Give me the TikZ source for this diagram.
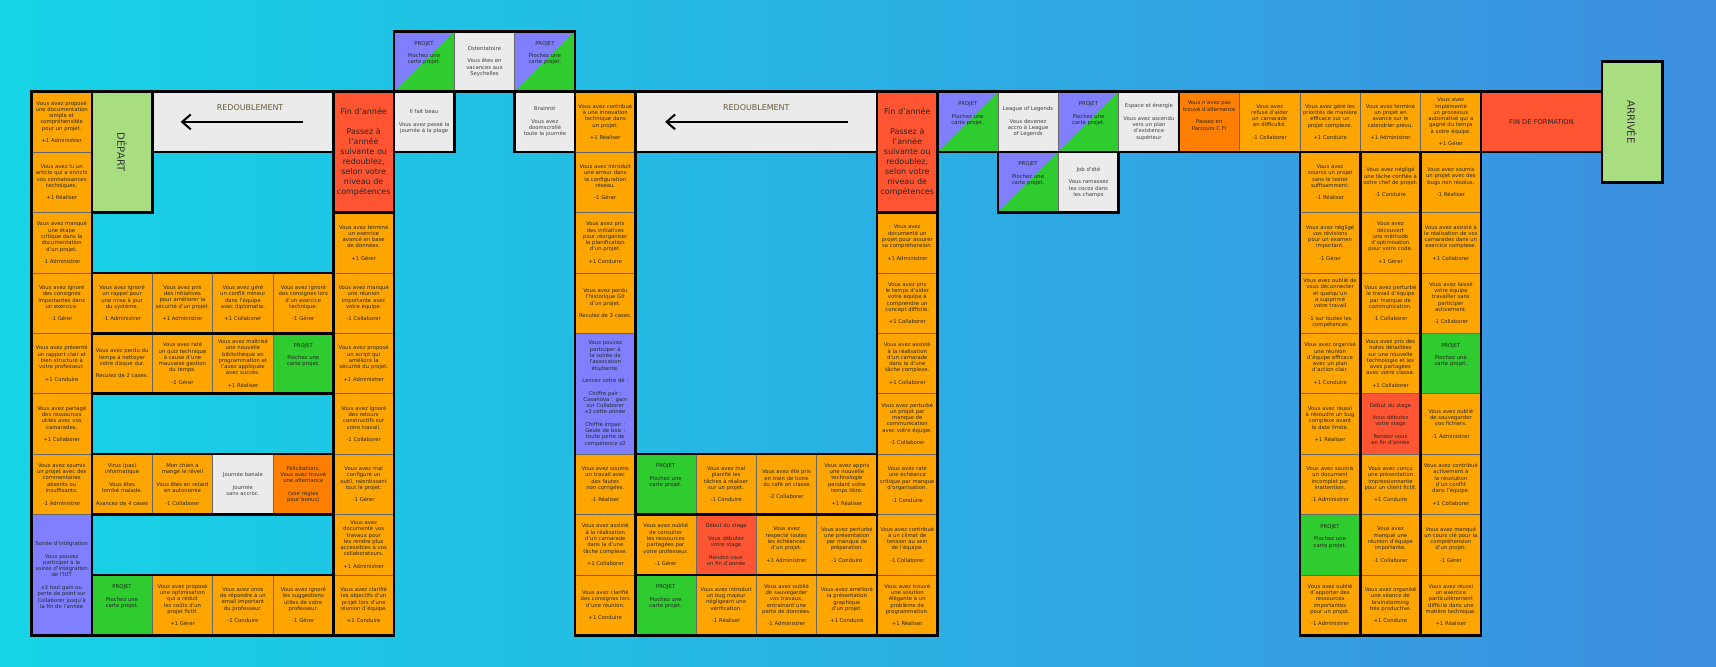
\documentclass[tikz,border=0pt]{standalone}
\usepackage{fontspec}
\setmainfont{DejaVu Sans}
\usetikzlibrary{arrows.meta}
\definecolor{skyleft}{RGB}{22, 212, 230}
\definecolor{skyright}{RGB}{62, 142, 224}
\definecolor{sunflower}{RGB}{255, 165, 0}
\definecolor{carrot}{RGB}{255, 127, 0}
\definecolor{tomato}{RGB}{255, 85, 51}
\definecolor{grass}{RGB}{46, 204, 46}
\definecolor{lavender}{RGB}{128, 128, 255}
\definecolor{clouds}{RGB}{235, 235, 235}
\definecolor{pistachio}{RGB}{168, 222, 128}
\definecolor{bronze}{RGB}{100, 90, 55}
\hyphenpenalty=10000
\exhyphenpenalty=10000
\newcommand{\saut}{\\[5.9pt]}
\newcommand{\pioche}{PROJET\saut Piochez une carte projet.\\[11pt]\mbox{}}
\newcommand{\stage}{Début du stage\saut Vous débutez votre stage\saut Rendez-vous en fin d'année}
\newcommand{\finannee}{Fin d'année\\[9.4pt]Passez à l'année suivante ou redoublez, selon votre niveau de compétences}
\tikzset{
    case/.style={draw=black!60, line width=0.5pt, minimum width=2cm, minimum height=2cm, inner sep=0pt,
                 text width=1.8cm, align=center, font=\fontsize{5}{5.9}\selectfont, text=black!85},
    comp/.style={case, fill=sunflower},
    evt/.style={case, fill=clouds, text=black!75},
    alter/.style={case, fill=carrot},
    rouge/.style={case, fill=tomato},
    projet/.style={case, fill=grass},
    mixte/.style={case, path picture={
        \fill[lavender] (path picture bounding box.north west) -- (path picture bounding box.north east) -- (path picture bounding box.south west) -- cycle;
        \fill[grass]    (path picture bounding box.north east) -- (path picture bounding box.south east) -- (path picture bounding box.south west) -- cycle;}},
    soiree/.style={case, fill=lavender, minimum height=4cm},
    finan/.style={case, fill=tomato, minimum height=4cm, text width=1.9cm, font=\fontsize{7.5}{9.4}\selectfont},
    redoub/.style={case, fill=clouds},
    redoubtexte/.style={text=bronze, font=\fontsize{7.5}{9}\selectfont, inner sep=0pt},
    fleche/.style={line width=1.9pt, -{Straight Barb[length=8pt, width=14pt]}},
    borne/.style={draw=black!60, fill=pistachio, minimum width=4cm, minimum height=2cm, rotate=-90,
                  font=\fontsize{9.5}{11}\selectfont, text=black!80},
    bord/.style={line width=2.5pt, black},
}
\begin{document}
\begin{tikzpicture}[x=2cm, y=-2cm]
    \useasboundingbox (-0.5215,-1.518) rectangle (27.89,9.525);
    \shade[left color=skyleft, right color=skyright] (-0.5215,-1.518) rectangle (27.89,9.525);

    % premiere annee
    \node[comp]   (c0r0) at (0.5,0.5) {Vous avez proposé une documentation simple et compréhensible pour un projet.\saut +1 Administrer};
    \node[comp]   (c0r1) at (0.5,1.5) {Vous avez lu un article qui a enrichi vos connaissances techniques.\saut +1 Réaliser};
    \node[comp]   (c0r2) at (0.5,2.5) {Vous avez manqué une étape critique dans la documentation d'un projet.\saut -1 Administrer};
    \node[comp]   (c0r3) at (0.5,3.5) {Vous avez ignoré des consignes importantes dans un exercice.\saut -1 Gérer};
    \node[comp]   (c0r4) at (0.5,4.5) {Vous avez présenté un rapport clair et bien structuré à votre professeur.\saut +1 Conduire};
    \node[comp]   (c0r5) at (0.5,5.5) {Vous avez partagé des ressources utiles avec vos camarades.\saut +1 Collaborer};
    \node[comp]   (c0r6) at (0.5,6.5) {Vous avez soumis un projet avec des commentaires absents ou insuffisants.\saut -1 Administrer};
    \node[soiree] (c0r7) at (0.5,8.0) {Soirée d'intégration\saut Vous pouvez participer à la soirée d'intégration de l'IUT\saut x3 tout gain ou perte de point sur Collaborer jusqu'à la fin de l'année};
    \node[borne]  (depart) at (1.5,1.0) {DÉPART};
    \node[redoub, minimum width=6cm] (redoub1) at (3.5,0.5) {};
    \node[finan]  (fin1) at (5.5,1.0) {\finannee};
    \node[comp]   (c1r3) at (1.5,3.5) {Vous avez ignoré un rappel pour une mise à jour du système.\saut -1 Administrer};
    \node[comp]   (c2r3) at (2.5,3.5) {Vous avez pris des initiatives pour améliorer la sécurité d'un projet.\saut +1 Administrer};
    \node[comp]   (c3r3) at (3.5,3.5) {Vous avez géré un conflit mineur dans l'équipe avec diplomatie.\saut +1 Collaborer};
    \node[comp]   (c4r3) at (4.5,3.5) {Vous avez ignoré des consignes lors d'un exercice technique.\saut -1 Gérer};
    \node[comp]   (c1r4) at (1.5,4.5) {Vous avez perdu du temps à nettoyer votre disque dur.\saut Reculez de 2 cases.};
    \node[comp]   (c2r4) at (2.5,4.5) {Vous avez raté un quiz technique à cause d'une mauvaise gestion du temps.\saut -1 Gérer};
    \node[comp]   (c3r4) at (3.5,4.5) {Vous avez maîtrisé une nouvelle bibliothèque en programmation et l'avez appliquée avec succès.\saut +1 Réaliser};
    \node[projet] (c4r4) at (4.5,4.5) {\pioche};
    \node[comp]   (c1r6) at (1.5,6.5) {Virus (pas) informatique\saut Vous êtes tombé malade.\saut Avancez de 4 cases};
    \node[comp]   (c2r6) at (2.5,6.5) {Mon chien a mangé le réveil\saut Vous êtes en retard en autonomie\saut -1 Collaborer};
    \node[evt]    (c3r6) at (3.5,6.5) {Journée banale\saut Journée sans accroc.};
    \node[alter]  (c4r6) at (4.5,6.5) {Félicitations,\\Vous avez trouvé une alternance\saut (voir règles pour bonus)};
    \node[projet] (c1r8) at (1.5,8.5) {\pioche};
    \node[comp]   (c2r8) at (2.5,8.5) {Vous avez proposé une optimisation qui a réduit les coûts d'un projet fictif.\saut +1 Gérer};
    \node[comp]   (c3r8) at (3.5,8.5) {Vous avez omis de répondre à un email important du professeur.\saut -1 Conduire};
    \node[comp]   (c4r8) at (4.5,8.5) {Vous avez ignoré les suggestions utiles de votre professeur.\saut -1 Gérer};
    \node[comp]   (c5r2) at (5.5,2.5) {Vous avez terminé un exercice avancé en base de données.\saut +1 Gérer};
    \node[comp]   (c5r3) at (5.5,3.5) {Vous avez manqué une réunion importante avec votre équipe.\saut -1 Collaborer};
    \node[comp]   (c5r4) at (5.5,4.5) {Vous avez proposé un script qui améliore la sécurité du projet.\saut +1 Administrer};
    \node[comp]   (c5r5) at (5.5,5.5) {Vous avez ignoré des retours constructifs sur votre travail.\saut -1 Collaborer};
    \node[comp]   (c5r6) at (5.5,6.5) {Vous avez mal configuré un outil, ralentissant tout le projet.\saut -1 Gérer};
    \node[comp]   (c5r7) at (5.5,7.5) {Vous avez documenté vos travaux pour les rendre plus accessibles à vos collaborateurs.\saut +1 Administrer};
    \node[comp]   (c5r8) at (5.5,8.5) {Vous avez clarifié les objectifs d'un projet lors d'une réunion d'équipe.\saut +1 Conduire};

    % vacances
    \node[mixte]  (c6rh) at (6.5,-0.5) {\pioche};
    \node[evt]    (c7rh) at (7.5,-0.5) {Ostentatoire\saut Vous êtes en vacances aux Seychelles};
    \node[mixte]  (c8rh) at (8.5,-0.5) {\pioche};
    \node[evt]    (c6r0) at (6.5,0.5) {Il fait beau\saut Vous avez passé la journée à la plage};
    \node[evt]    (c8r0) at (8.5,0.5) {Brainrot\saut Vous avez doomscrollé toute la journée};

    % deuxieme annee
    \node[comp]   (c9r0) at (9.5,0.5) {Vous avez contribué à une innovation technique dans un projet.\saut +1 Réaliser};
    \node[comp]   (c9r1) at (9.5,1.5) {Vous avez introduit une erreur dans la configuration réseau.\saut -1 Gérer};
    \node[comp]   (c9r2) at (9.5,2.5) {Vous avez pris des initiatives pour réorganiser la planification d'un projet.\saut +1 Conduire};
    \node[comp]   (c9r3) at (9.5,3.5) {Vous avez perdu l'historique Git d'un projet.\saut Reculez de 3 cases.};
    \node[soiree] (c9r4) at (9.5,5.0) {Vous pouvez participer à la soirée de l'assocation étudiante.\saut Lancez votre dé :\saut Chiffre pair : Casanova : gain sur Collaborer x3 cette année\saut Chiffre impair : Geule de bois : toute perte de compétence x2};
    \node[comp]   (c9r6) at (9.5,6.5) {Vous avez soumis un travail avec des fautes non corrigées.\saut -1 Réaliser};
    \node[comp]   (c9r7) at (9.5,7.5) {Vous avez assisté à la réalisation d'un camarade dans la d'une tâche complexe.\saut +1 Collaborer};
    \node[comp]   (c9r8) at (9.5,8.5) {Vous avez clarifié des consignes lors d'une réunion.\saut +1 Conduire};
    \node[redoub, minimum width=8cm] (redoub2) at (12,0.5) {};
    \node[finan]  (fin2) at (14.5,1.0) {\finannee};
    \node[projet] (c10r6) at (10.5,6.5) {\pioche};
    \node[comp]   (c11r6) at (11.5,6.5) {Vous avez mal planifié les tâches à réaliser sur un projet.\saut -1 Conduire};
    \node[comp]   (c12r6) at (12.5,6.5) {Vous avez été pris en train de boire du café en classe\saut -2 Collaborer};
    \node[comp]   (c13r6) at (13.5,6.5) {Vous avez appris une nouvelle technologie pendant votre temps libre.\saut +1 Réaliser};
    \node[comp]   (c10r7) at (10.5,7.5) {Vous avez oublié de consulter les ressources partagées par votre professeur.\saut -1 Gérer};
    \node[rouge]  (c11r7) at (11.5,7.5) {\stage};
    \node[comp]   (c12r7) at (12.5,7.5) {Vous avez respecté toutes les échéances d'un projet.\saut +1 Administrer};
    \node[comp]   (c13r7) at (13.5,7.5) {Vous avez perturbé une présentation par manque de préparation.\saut -1 Conduire};
    \node[projet] (c10r8) at (10.5,8.5) {\pioche};
    \node[comp]   (c11r8) at (11.5,8.5) {Vous avez introduit un bug majeur négligeant une vérification.\saut -1 Réaliser};
    \node[comp]   (c12r8) at (12.5,8.5) {Vous avez oublié de sauvegarder vos travaux, entraînant une perte de données.\saut -1 Administrer};
    \node[comp]   (c13r8) at (13.5,8.5) {Vous avez amélioré la présentation graphique d'un projet.\saut +1 Conduire};
    \node[comp]   (c14r2) at (14.5,2.5) {Vous avez documenté un projet pour assurer sa compréhension.\saut +1 Administrer};
    \node[comp]   (c14r3) at (14.5,3.5) {Vous avez pris le temps d'aider votre équipe à comprendre un concept difficile.\saut +1 Collaborer};
    \node[comp]   (c14r4) at (14.5,4.5) {Vous avez assisté à la réalisation d'un camarade dans la d'une tâche complexe.\saut +1 Collaborer};
    \node[comp]   (c14r5) at (14.5,5.5) {Vous avez perturbé un projet par manque de communication avec votre équipe.\saut -1 Collaborer};
    \node[comp]   (c14r6) at (14.5,6.5) {Vous avez raté une échéance critique par manque d'organisation.\saut -1 Conduire};
    \node[comp]   (c14r7) at (14.5,7.5) {Vous avez contribué à un climat de tension au sein de l'équipe.\saut -1 Collaborer};
    \node[comp]   (c14r8) at (14.5,8.5) {Vous avez trouvé une solution élégante à un problème de programmation.\saut +1 Réaliser};

    % ete
    \node[mixte]  (c15r0) at (15.5,0.5) {\pioche};
    \node[evt]    (c16r0) at (16.5,0.5) {League of Legends\saut Vous devenez accro à League of Legends};
    \node[mixte]  (c17r0) at (17.5,0.5) {\pioche};
    \node[evt]    (c18r0) at (18.5,0.5) {Espace et énergie\saut Vous avez ascendu vers un plan d'existence supérieur};
    \node[mixte]  (c16r1) at (16.5,1.5) {\pioche};
    \node[evt]    (c17r1) at (17.5,1.5) {Job d'été\saut Vous ramassez les cocos dans les champs};

    % troisieme annee
    \node[alter]  (c19r0) at (19.5,0.5) {Vous n'avez pas trouvé d'alternance\saut Passez en Parcours C FI\\[6pt]\mbox{}};
    \node[comp]   (c20r0) at (20.5,0.5) {Vous avez refusé d'aider un camarade en difficulté.\saut -1 Collaborer};
    \node[comp]   (c21r0) at (21.5,0.5) {Vous avez géré les priorités de manière efficace sur un projet complexe.\saut +1 Conduire};
    \node[comp]   (c22r0) at (22.5,0.5) {Vous avez terminé un projet en avance sur le calendrier prévu.\saut +1 Administrer};
    \node[comp]   (c23r0) at (23.5,0.5) {Vous avez implémenté un processus automatisé qui a gagné du temps à votre équipe.\saut +1 Gérer};
    \node[rouge, minimum width=4cm, text width=3.8cm, font=\fontsize{6.3}{7.5}\selectfont] (finform) at (25,0.5) {FIN DE FORMATION};
    \node[borne]  (arrivee) at (26.5,0.5) {ARRIVÉE};
    \node[comp]   (c21r1) at (21.5,1.5) {Vous avez soumis un projet sans le tester suffisamment.\saut -1 Réaliser};
    \node[comp]   (c21r2) at (21.5,2.5) {Vous avez négligé vos révisions pour un examen important.\saut -1 Gérer};
    \node[comp]   (c21r3) at (21.5,3.5) {Vous avez oublié de vous déconnecter et quelqu'un a supprimé votre travail\saut -1 sur toutes les compétences};
    \node[comp]   (c21r4) at (21.5,4.5) {Vous avez organisé une réunion d'équipe efficace avec un plan d'action clair.\saut +1 Conduire};
    \node[comp]   (c21r5) at (21.5,5.5) {Vous avez réussi à résoudre un bug complexe avant la date limite.\saut +1 Réaliser};
    \node[comp]   (c21r6) at (21.5,6.5) {Vous avez soumis un document incomplet par inattention.\saut -1 Administrer};
    \node[projet] (c21r7) at (21.5,7.5) {\pioche};
    \node[comp]   (c21r8) at (21.5,8.5) {Vous avez oublié d'apporter des ressources importantes pour un projet.\saut -1 Administrer};
    \node[comp]   (c22r1) at (22.5,1.5) {Vous avez négligé une tâche confiée à votre chef de projet.\saut -1 Conduire};
    \node[comp]   (c22r2) at (22.5,2.5) {Vous avez découvert une méthode d'optimisation pour votre code.\saut +1 Gérer};
    \node[comp]   (c22r3) at (22.5,3.5) {Vous avez perturbé le travail d'équipe par manque de communication.\saut -1 Collaborer};
    \node[comp]   (c22r4) at (22.5,4.5) {Vous avez pris des notes détaillées sur une nouvelle technologie et les avez partagées avec votre classe.\saut +1 Collaborer};
    \node[rouge]  (c22r5) at (22.5,5.5) {\stage};
    \node[comp]   (c22r6) at (22.5,6.5) {Vous avez conçu une présentation impressionnante pour un client fictif.\saut +1 Conduire};
    \node[comp]   (c22r7) at (22.5,7.5) {Vous avez manqué une réunion d'équipe importante.\saut -1 Collaborer};
    \node[comp]   (c22r8) at (22.5,8.5) {Vous avez organisé une séance de brainstorming très productive.\saut +1 Conduire};
    \node[comp]   (c23r1) at (23.5,1.5) {Vous avez soumis un projet avec des bugs non résolus.\saut -1 Réaliser};
    \node[comp]   (c23r2) at (23.5,2.5) {Vous avez assisté à la réalisation de vos camarades dans un exercice complexe.\saut +1 Collaborer};
    \node[comp]   (c23r3) at (23.5,3.5) {Vous avez laissé votre équipe travailler sans participer activement.\saut -1 Collaborer};
    \node[projet] (c23r4) at (23.5,4.5) {\pioche};
    \node[comp]   (c23r5) at (23.5,5.5) {Vous avez oublié de sauvegarder vos fichiers.\saut -1 Administrer};
    \node[comp]   (c23r6) at (23.5,6.5) {Vous avez contribué activement à la résolution d'un conflit dans l'équipe.\saut +1 Collaborer};
    \node[comp]   (c23r7) at (23.5,7.5) {Vous avez manqué un cours clé pour la compréhension d'un projet.\saut -1 Gérer};
    \node[comp]   (c23r8) at (23.5,8.5) {Vous avez réussi un exercice particulièrement difficile dans une matière technique.\saut +1 Réaliser};

    % contours
    \draw[bord] (0,0) rectangle (1,9);      \draw[bord] (1,0) rectangle (2,2);      \draw[bord] (2,0) rectangle (5,1);
    \draw[bord] (5,0) rectangle (6,2);      \draw[bord] (5,2) rectangle (6,9);      \draw[bord] (1,3) rectangle (5,4);
    \draw[bord] (1,4) rectangle (5,5);      \draw[bord] (1,6) rectangle (5,7);      \draw[bord] (1,8) rectangle (5,9);
    \draw[bord] (6,-1) rectangle (9,0);     \draw[bord] (6,0) rectangle (7,1);      \draw[bord] (8,0) rectangle (9,1);
    \draw[bord] (9,0) rectangle (10,9);     \draw[bord] (10,0) rectangle (14,1);    \draw[bord] (14,0) rectangle (15,2);
    \draw[bord] (14,2) rectangle (15,9);    \draw[bord] (10,6) rectangle (14,7);    \draw[bord] (10,7) rectangle (14,8);
    \draw[bord] (10,8) rectangle (14,9);    \draw[bord] (15,0) rectangle (19,1);    \draw[bord] (16,1) rectangle (18,2);
    \draw[bord] (19,0) rectangle (24,1);    \draw[bord] (21,1) rectangle (22,9);    \draw[bord] (22,1) rectangle (23,9);
    \draw[bord] (23,1) rectangle (24,9);    \draw[bord] (24,0) rectangle (26,1);    \draw[bord] (26,-0.5) rectangle (27,1.5);

    % redoublement
    \node[redoubtexte] (redoub1t) at (3.62,0.27) {REDOUBLEMENT};
    \node[redoubtexte] (redoub2t) at (12.00,0.27) {REDOUBLEMENT};
    \coordinate (r1d) at (4.50,0.5);
    \coordinate (r1g) at (2.47,0.5);
    \coordinate (r2d) at (13.52,0.5);
    \coordinate (r2g) at (10.49,0.5);
    \draw[fleche] (r1d) -- (r1g);
    \draw[fleche] (r2d) -- (r2g);
\end{tikzpicture}
\end{document}
